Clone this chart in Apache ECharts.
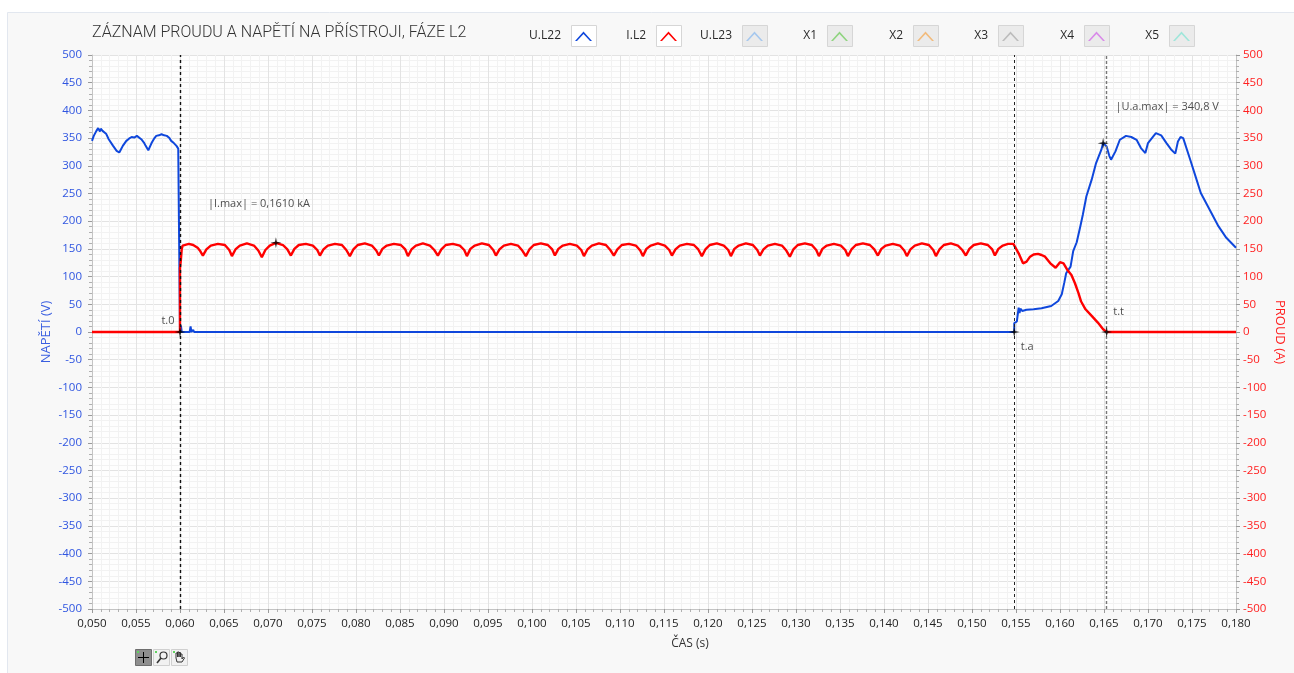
<!DOCTYPE html>
<html>
<head>
<meta charset="utf-8">
<script src="https://cdn.jsdelivr.net/npm/echarts@6/dist/echarts.min.js"></script>
<style>
html,body{margin:0;padding:0;background:#fff;}
#chart{width:1294px;height:673px;}
</style>
</head>
<body>
<div id="chart"></div>
<script>
// ---------- data ----------
const titleText = 'ZÁZNAM PROUDU A NAPĚTÍ NA PŘÍSTROJI, FÁZE L2';
const legendNames = ['U.L22', 'I.L2', 'U.L23', 'X1', 'X2', 'X3', 'X4', 'X5'];
const legendColors = ['#0f47dc', '#ff0000', '#a6c8ee', '#8fd47f', '#f2bb7c', '#bcbcbc', '#d98ae9', '#9fe6da'];

// U.L22 voltage [time s, V]
const voltage = [
  [0.0500,345],[0.0502,354],[0.0505,363],[0.0507,368],[0.0509,362],[0.0510,367],[0.0512,363],[0.0514,366],
  [0.0516,358],[0.0519,348],[0.0521,350],[0.0524,336],[0.0526,333],[0.0528,327],[0.0531,324],[0.0533,330],
  [0.0535,336],[0.0539,345],[0.0542,349],[0.0545,352],[0.0548,351],[0.0551,354],[0.0553,352],[0.0556,348],
  [0.0559,342],[0.0561,336],[0.0564,328],[0.0566,335],[0.0568,342],[0.0571,350],[0.0573,354],[0.0576,355],
  [0.0579,357],[0.0582,355],[0.0585,354],[0.0588,350],[0.0590,345],[0.0593,341],[0.0596,336],[0.0598,331],
  [0.0599,334],[0.0600,328],[0.0600,0],
  [0.0601,12],[0.0602,0],[0.0605,0],[0.0611,0],[0.0612,10],[0.0613,0],[0.0614,0],[0.0615,4],[0.0616,0],
  [0.0617,0],[0.0618,3],[0.0619,0],[0.0630,0],[0.0653,0],[0.0654,3],[0.0655,0],[0.0700,0],[0.0800,0],
  [0.0900,0],[0.1000,0],[0.1100,0],[0.1200,0],[0.1300,0],[0.1400,0],[0.1500,0],
  [0.1548,0],[0.1548,16],[0.1551,19],[0.1553,44],[0.1554,34],[0.1555,42],[0.1557,38],[0.1562,40],[0.1570,41],
  [0.1579,43],[0.1590,47],[0.1598,56],[0.1602,68],[0.1605,90],[0.1607,106],[0.1612,118],[0.1615,146],
  [0.1619,162],[0.1623,190],[0.1626,212],[0.1630,245],[0.1636,275],[0.1641,305],[0.1647,329],[0.1649,341],
  [0.1653,335],[0.1656,318],[0.1658,311],[0.1663,326],[0.1668,347],[0.1675,354],[0.1681,352],[0.1687,347],
  [0.1692,332],[0.1697,323],[0.1700,341],[0.1706,353],[0.1709,359],[0.1715,355],[0.1721,341],[0.1726,330],
  [0.1731,322],[0.1734,344],[0.1737,352],[0.1740,350],[0.1742,347],[0.1748,311],[0.1754,281],[0.1760,251],
  [0.1771,218],[0.1780,191],[0.1789,170],[0.1800,152]
];

// I.L2 current [time s, A]
const current = [
  [0.0500,0],[0.0600,0],[0.0600,115],[0.0601,130],[0.0602,150],[0.0603,156],[0.0605,158],[0.0610,159],
  [0.0615,157],[0.0620,152],[0.0623,146],
  [0.0626,138],[0.0630,149],[0.0635,156],[0.0643,159],[0.0651,157],[0.0656,148],
  [0.0659,137],[0.0663,149],[0.0668,156],[0.0676,160],[0.0684,156],[0.0689,147],
  [0.0693,135],[0.0697,148],[0.0702,156],[0.0709,161],[0.0717,157],[0.0722,149],
  [0.0726,138],[0.0730,150],[0.0735,157],[0.0743,159],[0.0751,156],[0.0756,148],
  [0.0759,138],[0.0763,149],[0.0768,156],[0.0776,159],[0.0784,157],[0.0789,148],
  [0.0793,137],[0.0797,149],[0.0802,157],[0.0810,160],[0.0818,156],[0.0823,147],
  [0.0826,138],[0.0830,150],[0.0835,156],[0.0843,159],[0.0851,157],[0.0856,149],
  [0.0859,137],[0.0863,149],[0.0868,156],[0.0876,160],[0.0884,156],[0.0889,148],
  [0.0893,138],[0.0897,149],[0.0902,157],[0.0910,159],[0.0918,156],[0.0923,148],
  [0.0926,137],[0.0930,150],[0.0935,156],[0.0943,160],[0.0951,157],[0.0956,148],
  [0.0959,138],[0.0963,149],[0.0968,156],[0.0976,159],[0.0984,156],[0.0989,147],
  [0.0993,137],[0.0997,149],[0.1002,157],[0.1010,160],[0.1018,157],[0.1023,149],
  [0.1026,138],[0.1030,150],[0.1035,156],[0.1043,159],[0.1051,156],[0.1056,148],
  [0.1059,137],[0.1063,149],[0.1068,156],[0.1076,160],[0.1084,157],[0.1089,148],
  [0.1093,138],[0.1097,149],[0.1102,157],[0.1110,159],[0.1118,156],[0.1123,147],
  [0.1126,137],[0.1130,150],[0.1135,156],[0.1143,160],[0.1151,156],[0.1156,148],
  [0.1159,138],[0.1163,149],[0.1168,156],[0.1176,159],[0.1184,157],[0.1189,149],
  [0.1193,137],[0.1197,149],[0.1202,157],[0.1210,160],[0.1218,156],[0.1223,148],
  [0.1226,137],[0.1230,150],[0.1235,156],[0.1243,160],[0.1251,157],[0.1256,148],
  [0.1259,138],[0.1263,149],[0.1268,156],[0.1276,159],[0.1284,156],[0.1289,147],
  [0.1293,136],[0.1297,149],[0.1302,157],[0.1310,160],[0.1318,157],[0.1323,148],
  [0.1326,137],[0.1330,150],[0.1335,156],[0.1343,159],[0.1351,156],[0.1356,148],
  [0.1359,137],[0.1363,149],[0.1368,157],[0.1376,160],[0.1384,157],[0.1389,149],
  [0.1393,138],[0.1397,150],[0.1402,156],[0.1410,159],[0.1418,156],[0.1423,147],
  [0.1426,137],[0.1430,149],[0.1435,156],[0.1443,160],[0.1451,157],[0.1456,148],
  [0.1459,137],[0.1463,149],[0.1468,157],[0.1476,160],[0.1484,156],[0.1489,148],
  [0.1493,138],[0.1497,150],[0.1502,157],[0.1510,160],[0.1518,157],[0.1523,149],
  [0.1526,138],[0.1530,150],[0.1535,156],[0.1541,159],[0.1547,159],
  [0.1553,142],[0.1558,124],[0.1562,127],[0.1566,136],[0.1570,140],[0.1575,141],[0.1579,139],[0.1583,136],
  [0.1589,124],[0.1595,116],[0.1598,122],[0.1600,126],[0.1604,124],[0.1608,113],[0.1613,103],[0.1617,88],
  [0.1621,70],[0.1624,55],[0.1629,41],[0.1636,29],[0.1643,17],[0.1649,5],[0.1653,0],[0.1700,0],[0.1800,0]
];

// cursors: [time, value], label, label offset
const cursorTimes = [0.0600, 0.1548, 0.1653];
const cursorPoints = [
  { name: 't.0', value: [0.0600, 0], offset: [-12, -11] },
  { name: 't.a', value: [0.1548, 0], offset: [13, 15] },
  { name: 't.t', value: [0.1653, 0], offset: [12, -20] },
  { name: '|I.max| = 0,1610 kA', value: [0.0709, 161], offset: [-17, -39] },
  { name: '|U.a.max| = 340,8 V', value: [0.1649, 340.8], offset: [64, -36] }
];

const yTicks = { min: -500, max: 500, interval: 50 };
const xTicks = { min: 0.050, max: 0.180, interval: 0.005 };

// ---------- chart ----------
const FONT = 'Open Sans';
const W = 1294;
const chart = echarts.init(document.getElementById('chart'), null, { renderer: 'canvas' });

const chevron = 'path://M0,0M25,21M4,16L12.5,6.5L21,16L19,16L12.5,9L6,16Z';
const star = 'path://M5,0L5.9,4.1L10,5L5.9,5.9L5,10L4.1,5.9L0,5L4.1,4.1Z';

const legendStep = 85.43;
const legendFirstIcon = 571;
const iconLeft = i => Math.round(legendFirstIcon + i * legendStep);

const graphics = [
  { type: 'rect', z: -10, silent: true, shape: { x: 7.5, y: 12.5, width: 1300, height: 700 },
    style: { fill: '#f8f8f8', stroke: '#e2e7ef', lineWidth: 1 } }
];
legendNames.forEach((n, i) => {
  graphics.push({ type: 'rect', z: 1, silent: true,
    shape: { x: iconLeft(i) + 0.5, y: 25.5, width: 25, height: 21 },
    style: { fill: i < 2 ? '#ffffff' : '#ebebeb', stroke: '#d6d6d6', lineWidth: 1 } });
});
// toolbar icons (bottom-left)
graphics.push({
  type: 'group', left: 135, top: 649, silent: true, children: [
    { type: 'rect', shape: { x: 0.5, y: 0.5, width: 16, height: 16 }, style: { fill: '#8e8e8e', stroke: '#6e6e6e' } },
    { type: 'line', shape: { x1: 8.5, y1: 3, x2: 8.5, y2: 14 }, style: { stroke: '#000', lineWidth: 1 } },
    { type: 'line', shape: { x1: 3, y1: 8.5, x2: 14, y2: 8.5 }, style: { stroke: '#000', lineWidth: 1 } },
    { type: 'rect', shape: { x: 2, y: 2, width: 2, height: 2 }, style: { fill: '#5fd35f' } },
    { type: 'rect', shape: { x: 18.5, y: 0.5, width: 16, height: 16 }, style: { fill: '#f1f1f1', stroke: '#d0d0d0' } },
    { type: 'circle', shape: { cx: 28.5, cy: 6.5, r: 3.5 }, style: { fill: 'none', stroke: '#333', lineWidth: 1.2 } },
    { type: 'line', shape: { x1: 26, y1: 9, x2: 22, y2: 14 }, style: { stroke: '#333', lineWidth: 1.6 } },
    { type: 'rect', shape: { x: 20, y: 2, width: 2, height: 2 }, style: { fill: '#5fd35f' } },
    { type: 'rect', shape: { x: 36.5, y: 0.5, width: 16, height: 16 }, style: { fill: '#f1f1f1', stroke: '#d0d0d0' } },
    { type: 'polyline', shape: { points: [[41,9],[41,4],[42.5,4],[42.5,8],[42.5,3],[44,3],[44,8],[44,3.5],[45.5,3.5],[45.5,8],[45.5,5],[47,5],[47,10],[48.5,8],[49.5,9],[47,13],[42,13],[41,9]] },
      style: { fill: 'none', stroke: '#333', lineWidth: 1 } },
    { type: 'rect', shape: { x: 38, y: 2, width: 2, height: 2 }, style: { fill: '#5fd35f' } }
  ]
});

const legends = legendNames.map((n, i) => ({
  data: [{ name: n, icon: chevron, itemStyle: { color: legendColors[i] } }],
  right: W - (iconLeft(i) + 25), top: 25, padding: 0,
  align: 'right', itemWidth: 25, itemHeight: 21,
  selectedMode: false,
  textStyle: { fontFamily: FONT, fontSize: 12, color: '#2a2a2a', padding: [0, 5, 0, 0] }
}));

const emptySeries = legendNames.slice(2).map((n, i) => ({
  name: n, type: 'line', data: [], showSymbol: false,
  itemStyle: { color: legendColors[i + 2] }, lineStyle: { color: legendColors[i + 2] }
}));

const option = {
  backgroundColor: '#ffffff',
  animation: false,
  textStyle: { fontFamily: FONT },
  title: {
    text: titleText, left: 92, top: 25, padding: 0,
    textStyle: { fontFamily: 'Roboto', fontWeight: 300, fontSize: 16, color: '#333' }
  },
  legend: legends,
  graphic: graphics,
  grid: { left: 92, right: 56, top: 55, bottom: 64, show: true, backgroundColor: '#fefefe', borderWidth: 0 },
  xAxis: {
    type: 'value', min: xTicks.min, max: xTicks.max, interval: xTicks.interval,
    name: 'ČAS (s)', nameLocation: 'middle', nameGap: 29, nameMoveOverlap: false,
    nameTextStyle: { color: '#333', fontSize: 12, fontFamily: FONT, padding: [0, 0, 0, 52] },
    axisLine: { show: true, onZero: false, lineStyle: { color: '#c4c4c4' } },
    axisTick: { show: true, length: 4, lineStyle: { color: '#9a9a9a' } },
    minorTick: { show: true, splitNumber: 5, length: 3, lineStyle: { color: '#b0b0b0' } },
    axisLabel: { color: '#222', fontSize: 11.5, margin: 9, formatter: v => v.toFixed(3).replace('.', ',') },
    splitLine: { show: true, lineStyle: { color: '#e3e3e3' } },
    minorSplitLine: { show: true, lineStyle: { color: '#f2f2f2' } }
  },
  yAxis: [
    {
      type: 'value', min: yTicks.min, max: yTicks.max, interval: yTicks.interval, position: 'left',
      name: 'NAPĚTÍ (V)', nameLocation: 'middle', nameGap: 39, nameMoveOverlap: false,
      nameTextStyle: { color: '#3a5fe0', fontSize: 13, fontFamily: FONT },
      axisLine: { show: true, lineStyle: { color: '#c4c4c4' } },
      axisTick: { show: true, length: 4, lineStyle: { color: '#9a9a9a' } },
      minorTick: { show: true, splitNumber: 5, length: 3, lineStyle: { color: '#b0b0b0' } },
      axisLabel: { color: '#2f55e0', fontSize: 11.5, margin: 10 },
      splitLine: { show: true, lineStyle: { color: '#e3e3e3' } },
      minorSplitLine: { show: true, lineStyle: { color: '#f2f2f2' } }
    },
    {
      type: 'value', min: yTicks.min, max: yTicks.max, interval: yTicks.interval, position: 'right',
      name: 'PROUD (A)', nameLocation: 'middle', nameGap: 37, nameRotate: -90, nameMoveOverlap: false,
      nameTextStyle: { color: '#ff2020', fontSize: 13, fontFamily: FONT },
      axisLine: { show: true, lineStyle: { color: '#c4c4c4' } },
      axisTick: { show: true, length: 4, lineStyle: { color: '#9a9a9a' } },
      minorTick: { show: true, splitNumber: 5, length: 3, lineStyle: { color: '#b0b0b0' } },
      axisLabel: { color: '#ff2020', fontSize: 11.5, margin: 7 },
      splitLine: { show: false }
    }
  ],
  series: [
    {
      name: 'U.L22', type: 'line', yAxisIndex: 0, data: voltage, showSymbol: false, symbol: 'none',
      itemStyle: { color: legendColors[0] }, lineStyle: { color: legendColors[0], width: 2 }, z: 3,
      markLine: {
        silent: true, symbol: 'none', label: { show: false }, precision: 6,
        data: [
          { xAxis: cursorTimes[0], lineStyle: { color: '#111', width: 1.4, type: [3, 3] } },
          { xAxis: cursorTimes[1], lineStyle: { color: '#222', width: 1, type: [3, 3] } },
          { xAxis: cursorTimes[2], lineStyle: { color: '#777', width: 1.4, type: [3, 2] } }
        ]
      }
    },
    {
      name: 'I.L2', type: 'line', yAxisIndex: 1, data: current, showSymbol: false, symbol: 'none',
      itemStyle: { color: legendColors[1] }, lineStyle: { color: legendColors[1], width: 2.4 }, z: 4
    },
    ...emptySeries,
    {
      name: 'cursors', type: 'scatter', yAxisIndex: 0, symbol: star, symbolSize: 11, z: 10,
      itemStyle: { color: '#000' },
      data: cursorPoints.map(p => ({
        name: p.name, value: p.value,
        label: { show: true, position: 'inside', offset: p.offset, formatter: '{b}',
                 color: '#222', fontSize: 11, fontFamily: FONT }
      }))
    }
  ]
};
chart.setOption(option);
</script>
</body>
</html>
